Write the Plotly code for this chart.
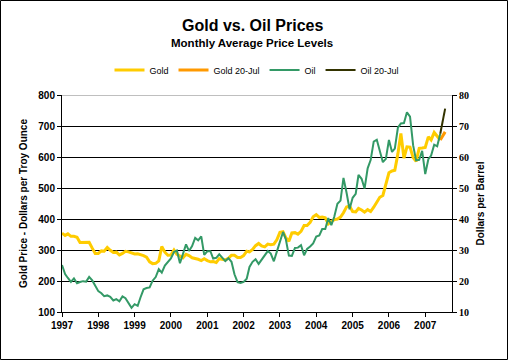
import plotly.graph_objects as go

# ---- data ----
months = [f"{y}-{m:02d}-01" for y in range(1997, 2008) for m in range(1, 13)][:126]

gold = [
    354, 347, 352, 344, 344, 341, 324, 324, 323, 325, 306, 289,
    289, 297, 296, 308, 299, 292, 293, 284, 289, 296, 294, 291,
    287, 288, 286, 282, 277, 262, 256, 257, 265, 311, 293, 283,
    284, 300, 286, 280, 275, 286, 282, 275, 273, 270, 266, 272,
    266, 262, 263, 260, 272, 270, 268, 273, 283, 283, 276, 276,
    282, 296, 294, 302, 314, 321, 313, 310, 319, 317, 319, 333,
    357, 359, 340, 328, 355, 356, 351, 360, 379, 379, 389, 407,
    414, 405, 406, 404, 384, 392, 398, 400, 406, 420, 439, 442,
    424, 423, 434, 429, 422, 430, 424, 438, 456, 470, 476, 510,
    549, 555, 557, 610, 676, 596, 633, 632, 598, 586, 628, 629,
    631, 665, 655, 679, 667, 655,
]

oil = [
    25.17, 22.21, 20.97, 19.70, 20.82, 19.26, 19.66, 19.95, 19.80, 21.33, 20.19, 18.33,
    16.72, 16.06, 15.12, 15.35, 14.91, 13.72, 14.17, 13.47, 15.03, 14.46, 13.00, 11.35,
    12.52, 12.01, 14.68, 17.31, 17.72, 17.92, 20.10, 21.28, 23.80, 22.69, 25.00, 26.10,
    27.26, 29.37, 29.84, 25.72, 28.79, 31.82, 29.70, 31.26, 33.88, 33.11, 34.42, 28.44,
    29.59, 29.61, 27.24, 27.49, 28.63, 27.60, 26.43, 27.37, 26.20, 22.17, 19.64, 19.39,
    19.72, 20.72, 24.53, 26.18, 27.04, 25.52, 26.97, 28.39, 29.66, 28.84, 26.35, 29.46,
    32.95, 35.83, 33.51, 28.17, 28.11, 30.66, 30.76, 31.57, 28.31, 30.34, 31.11, 32.13,
    34.31, 34.69, 36.74, 36.75, 40.28, 38.03, 40.78, 44.90, 45.94, 53.28, 48.47, 43.15,
    46.84, 48.15, 54.19, 52.98, 49.83, 56.35, 59.00, 64.99, 65.59, 62.26, 58.32, 59.41,
    65.49, 61.63, 62.69, 69.44, 70.84, 70.95, 74.41, 73.04, 63.80, 58.89, 59.08, 61.96,
    54.51, 59.28, 60.44, 63.98, 63.46, 67.49,
]

jul20_dates = ["2007-06-01", "2007-07-20"]
gold_jul20 = [655, 681]
oil_jul20 = [67.49, 75.6]

year_ticks = [f"{y}-01-01" for y in range(1997, 2008)]
year_labels = [str(y) for y in range(1997, 2008)]

SANS = "Arial, Liberation Sans, sans-serif"
SERIF = "Times New Roman, Liberation Serif, serif"

fig = go.Figure()
fig.add_trace(go.Scatter(x=months, y=gold, name="Gold", mode="lines",
                         line=dict(color="#FFCC00", width=3)))
fig.add_trace(go.Scatter(x=jul20_dates, y=gold_jul20, name="Gold 20-Jul", mode="lines",
                         line=dict(color="#FF9900", width=3)))
fig.add_trace(go.Scatter(x=months, y=oil, name="Oil", mode="lines", yaxis="y2",
                         line=dict(color="#339966", width=2)))
fig.add_trace(go.Scatter(x=jul20_dates, y=oil_jul20, name="Oil 20-Jul", mode="lines", yaxis="y2",
                         line=dict(color="#333300", width=2)))

W, H = 508, 360
L, R, T, B = 62, 56, 95, 48
pw, ph = W - L - R, H - T - B

def px_x(p):
    return (p - L) / pw

def px_y(p):
    return (H - B - p) / ph

fig.update_layout(
    width=W, height=H,
    margin=dict(l=L, r=R, t=T, b=B),
    paper_bgcolor="white", plot_bgcolor="white",
    font=dict(family=SANS, color="black", size=10),
    showlegend=True,
    legend=dict(orientation="h", x=0.5, xanchor="center", y=px_y(70), yanchor="middle",
                font=dict(family=SANS, size=9), bgcolor="rgba(0,0,0,0)", itemwidth=30),
    xaxis=dict(type="date", range=["1997-01-01", "2007-09-27"],
               tickvals=year_ticks, ticktext=year_labels,
               showline=True, linecolor="black", linewidth=1,
               ticks="outside", ticklen=4, tickcolor="black",
               showgrid=False, zeroline=False,
               tickfont=dict(family=SANS, size=10, weight="bold")),
    yaxis=dict(range=[100, 800], dtick=100, tick0=100,
               showline=True, linecolor="black", linewidth=1,
               ticks="outside", ticklen=4, tickcolor="black",
               showgrid=True, gridcolor="black", gridwidth=1, zeroline=False,
               tickfont=dict(family=SANS, size=10, weight="bold"),
               title=dict(text="Gold Price - Dollars per Troy Ounce",
                          font=dict(family=SANS, size=10, weight="bold"), standoff=8)),
    yaxis2=dict(range=[10, 80], dtick=10, tick0=10, overlaying="y", side="right",
                showline=True, linecolor="black", linewidth=1,
                ticks="outside", ticklen=4, tickcolor="black",
                showgrid=False, zeroline=False,
                tickfont=dict(family=SERIF, size=10, weight="bold"),
                title=dict(text="Dollars per Barrel",
                           font=dict(family=SANS, size=10, weight="bold"), standoff=8)),
    annotations=[
        dict(text="<b>Gold vs. Oil Prices</b>", xref="paper", yref="paper",
             x=px_x(252.5), y=px_y(25), xanchor="center", yanchor="middle",
             showarrow=False, font=dict(family=SANS, size=16)),
        dict(text="<b>Monthly Average Price Levels</b>", xref="paper", yref="paper",
             x=px_x(252), y=px_y(43), xanchor="center", yanchor="middle",
             showarrow=False, font=dict(family=SANS, size=11.5)),
    ],
    shapes=[
        dict(type="line", xref="paper", yref="y", x0=0, x1=1, y0=800, y1=800,
             line=dict(color="#808080", width=1), layer="above"),
        dict(type="rect", xref="paper", yref="paper",
             x0=px_x(0.5), x1=px_x(507.5), y0=px_y(359.5), y1=px_y(0.5),
             line=dict(color="black", width=1), fillcolor="rgba(0,0,0,0)"),
    ],
)

fig.write_html("out.html",
               config={"displayModeBar": False},
               post_script="document.body.style.margin='0px';document.body.style.overflow='hidden';")
